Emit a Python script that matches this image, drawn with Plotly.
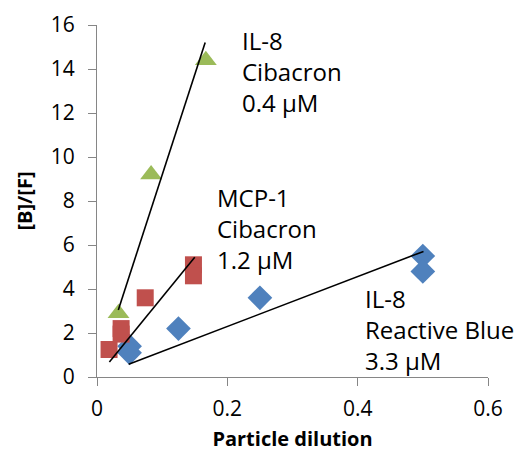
import plotly.graph_objects as go

# Data
blue_x = [0.05, 0.05, 0.125, 0.25, 0.5, 0.5]
blue_y = [1.4, 1.1, 2.2, 3.6, 5.5, 4.8]
red_x = [0.0185, 0.037, 0.037, 0.074, 0.148, 0.148]
red_y = [1.25, 1.95, 2.2, 3.6, 5.1, 4.6]
green_x = [0.033, 0.083, 0.167]
green_y = [2.9, 9.2, 14.4]

# trendline endpoints
green_fit_x = [0.0327, 0.166]
green_fit_y = [3.05, 15.2]
red_fit_x = [0.019, 0.150]
red_fit_y = [0.68, 5.44]
blue_fit_x = [0.0486, 0.501]
blue_fit_y = [0.58, 5.71]

labels = ["IL-8<br>Cibacron<br>0.4 μM", "MCP-1<br>Cibacron<br>1.2 μM", "IL-8<br>Reactive Blue<br>3.3 μM"]
label_x = [0.2195, 0.181, 0.408]
label_y = [13.9, 6.73, 2.16]

x_ticks = [0, 0.2, 0.4, 0.6]
y_ticks = [0, 2, 4, 6, 8, 10, 12, 14, 16]

FONT = "Open Sans"
fig = go.Figure()
fig.add_trace(go.Scatter(x=blue_x, y=blue_y, mode="markers",
                         marker=dict(symbol="diamond", size=19, color="#4F81BD"), showlegend=False))
fig.add_trace(go.Scatter(x=red_x, y=red_y, mode="markers",
                         marker=dict(symbol="square", size=17, color="#C0504D"), showlegend=False))
fig.add_trace(go.Scatter(x=green_x, y=green_y, mode="markers",
                         marker=dict(symbol="triangle-up", size=19, color="#9BBB59"), showlegend=False))
for fx, fy in [(green_fit_x, green_fit_y), (red_fit_x, red_fit_y), (blue_fit_x, blue_fit_y)]:
    fig.add_trace(go.Scatter(x=fx, y=fy, mode="lines", line=dict(color="black", width=1.6),
                             showlegend=False, hoverinfo="skip"))

for t, x, y in zip(labels, label_x, label_y):
    fig.add_annotation(x=x, y=y, xref="x", yref="y", text=t, showarrow=False,
                       xanchor="left", yanchor="middle", align="left",
                       font=dict(family=FONT, size=24, color="black"))

axis_common = dict(showgrid=False, zeroline=False, showline=True, linecolor="#868686", linewidth=1.3,
                   ticks="outside", ticklen=8, tickcolor="#868686", tickwidth=1.3, automargin=False,
                   tickfont=dict(family=FONT, size=21, color="black"))
fig.update_xaxes(range=[0, 0.6], tickvals=x_ticks, ticktext=[str(v) for v in [0, 0.2, 0.4, 0.6]],
                 ticklabelstandoff=5,
                 title=dict(text="<b>Particle dilution</b>", font=dict(family=FONT, size=20, color="black"), standoff=10),
                 **axis_common)
fig.update_yaxes(range=[0, 16], tickvals=y_ticks, ticklabelstandoff=9,
                 title=dict(text="<b>[B]/[F]</b>", font=dict(family=FONT, size=20, color="black"), standoff=12),
                 **axis_common)
fig.update_layout(width=523, height=457, margin=dict(l=97, r=35, t=25, b=80, autoexpand=False),
                  plot_bgcolor="white", paper_bgcolor="white")
fig.write_html("out.html", config={"displayModeBar": False},
               post_script="document.body.style.margin='0';document.body.style.overflow='hidden';")
